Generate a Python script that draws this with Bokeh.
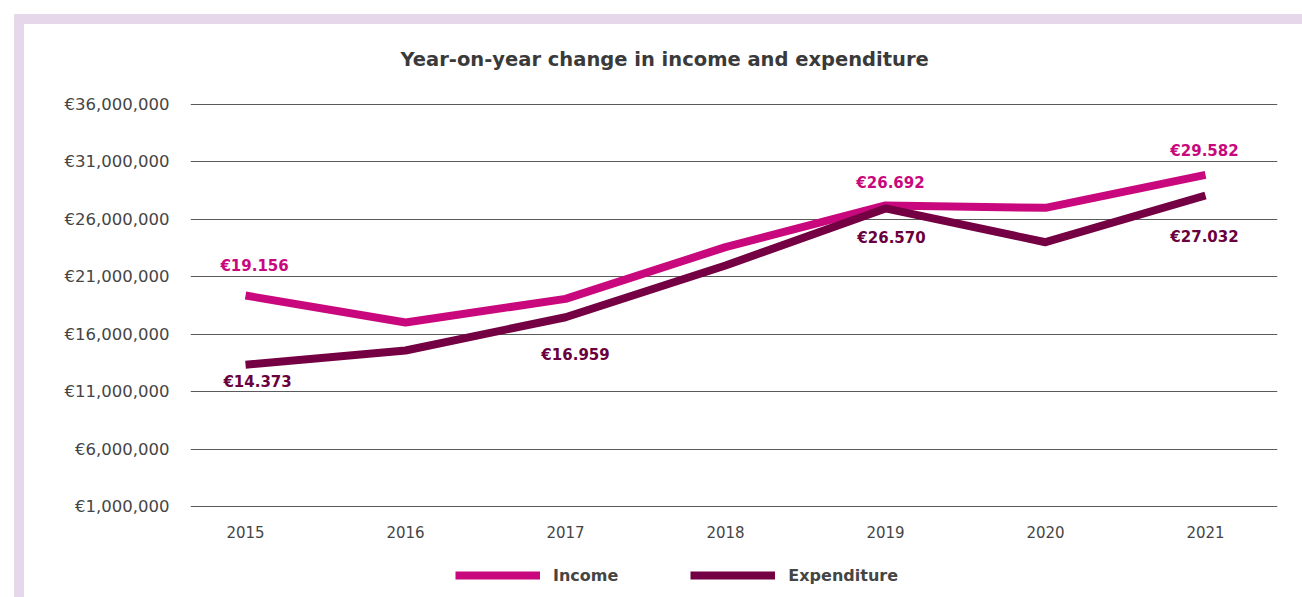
from bokeh.plotting import figure
from bokeh.models import Range1d, FixedTicker, Legend, LegendItem, ColumnDataSource, Title
from bokeh.embed import file_html
from bokeh.resources import INLINE
from bokeh.core.properties import value

# ---- data ----
years = [2015, 2016, 2017, 2018, 2019, 2020, 2021]
income = [19.37e6, 17.02e6, 19.08e6, 23.58e6, 27.21e6, 27.00e6, 29.88e6]
expenditure = [13.34e6, 14.58e6, 17.48e6, 21.98e6, 26.95e6, 24.01e6, 28.08e6]

y_ticks = [1e6, 6e6, 11e6, 16e6, 21e6, 26e6, 31e6, 36e6]
y_tick_labels = ["€1,000,000", "€6,000,000", "€11,000,000", "€16,000,000",
                 "€21,000,000", "€26,000,000", "€31,000,000", "€36,000,000"]
year_labels = ["2015", "2016", "2017", "2018", "2019", "2020", "2021"]

income_label_years = [2015, 2019, 2021]
income_label_text = ["€19.156", "€26.692", "€29.582"]
expenditure_label_years = [2015, 2017, 2019, 2021]
expenditure_label_text = ["€14.373", "€16.959", "€26.570", "€27.032"]

title_text = "Year-on-year change in income and expenditure"
series_names = ["Income", "Expenditure"]

# ---- styles ----
INCOME_C = "#c8087c"
EXP_C = "#740043"
TXT_C = "#454545"
LAV = "#e6d7ea"
FONT = "DejaVu Sans"

ML, MR, MT = 190, 25, 102
FW, FH = 1087, 495
PX_PER_UNIT = 402 / 35e6          # vertical scale of the value axis
y_lo = y_ticks[0] - (FH - 2 - 402) / PX_PER_UNIT
y_hi = y_ticks[-1] + 2 / PX_PER_UNIT

p = figure(frame_width=FW, frame_height=FH, output_backend="svg", toolbar_location=None,
           x_range=Range1d(2014.656, 2021.45),
           y_range=Range1d(y_lo, y_hi),
           min_border_left=ML, min_border_right=MR, min_border_top=MT, min_border_bottom=0)
p.outline_line_color = None
p.background_fill_color = "white"
p.border_fill_color = None
p.styles = {
    "background": (f"linear-gradient({LAV},{LAV}) 14px 14px / calc(100% - 14px) 10px no-repeat, "
                   f"linear-gradient({LAV},{LAV}) 14px 14px / 10px calc(100% - 14px) no-repeat, "
                   "#ffffff"),
}

p.xgrid.grid_line_color = None
p.ygrid.grid_line_color = "#5a5a5a"
p.ygrid.grid_line_width = 1.2

p.yaxis.ticker = FixedTicker(ticks=y_ticks)
p.yaxis.major_label_overrides = {t: l for t, l in zip(y_ticks, y_tick_labels)}
p.xaxis.ticker = FixedTicker(ticks=years)
p.xaxis.major_label_overrides = {y: l for y, l in zip(years, year_labels)}
p.xaxis.fixed_location = y_ticks[0]
for ax in (p.xaxis, p.yaxis):
    ax.axis_line_color = None
    ax.major_tick_line_color = None
    ax.minor_tick_line_color = None
    ax.major_label_text_font = FONT
    ax.major_label_text_color = TXT_C
p.yaxis.major_label_text_font_size = "16.5px"
p.xaxis.major_label_text_font_size = "15px"
p.yaxis.major_label_standoff = 15
p.xaxis.major_label_standoff = 13

p.add_layout(Title(text=title_text, align="left", offset=210, standoff=63,
                   text_font=FONT, text_font_size="19.5px", text_font_style="bold",
                   text_color="#3a3a3a"), "above")

r_inc = p.line(years, income, line_color=INCOME_C, line_width=8, line_join="round")
r_exp = p.line(years, expenditure, line_color=EXP_C, line_width=8, line_join="round")

inc_lookup = dict(zip(years, income))
exp_lookup = dict(zip(years, expenditure))
inc_src = ColumnDataSource(dict(x=income_label_years,
                                y=[inc_lookup[y] for y in income_label_years],
                                t=income_label_text,
                                dx=[9, 5, -1], dy=[-30, -22, -24]))
exp_src = ColumnDataSource(dict(x=expenditure_label_years,
                                y=[exp_lookup[y] for y in expenditure_label_years],
                                t=expenditure_label_text,
                                dx=[12, 10, 6, -1], dy=[17, 38, 30, 42]))
for src, col in ((inc_src, INCOME_C), (exp_src, "#6a003e")):
    p.text(x="x", y="y", text="t", source=src, x_offset="dx", y_offset="dy",
           text_align="center", text_baseline="middle", text_color=col,
           text_font=value(FONT), text_font_size="15px", text_font_style="bold")

legend = Legend(items=[LegendItem(label=series_names[0], renderers=[r_inc]),
                       LegendItem(label=series_names[1], renderers=[r_exp])],
                orientation="horizontal", location=(265, 12),
                glyph_width=85, glyph_height=20, label_standoff=13, spacing=72,
                padding=0, margin=0, border_line_color=None, background_fill_alpha=0,
                label_text_font=FONT, label_text_font_size="16px",
                label_text_color=TXT_C, label_text_font_style="bold")
p.add_layout(legend, "center")

open("out.html", "w").write(file_html(p, INLINE))
